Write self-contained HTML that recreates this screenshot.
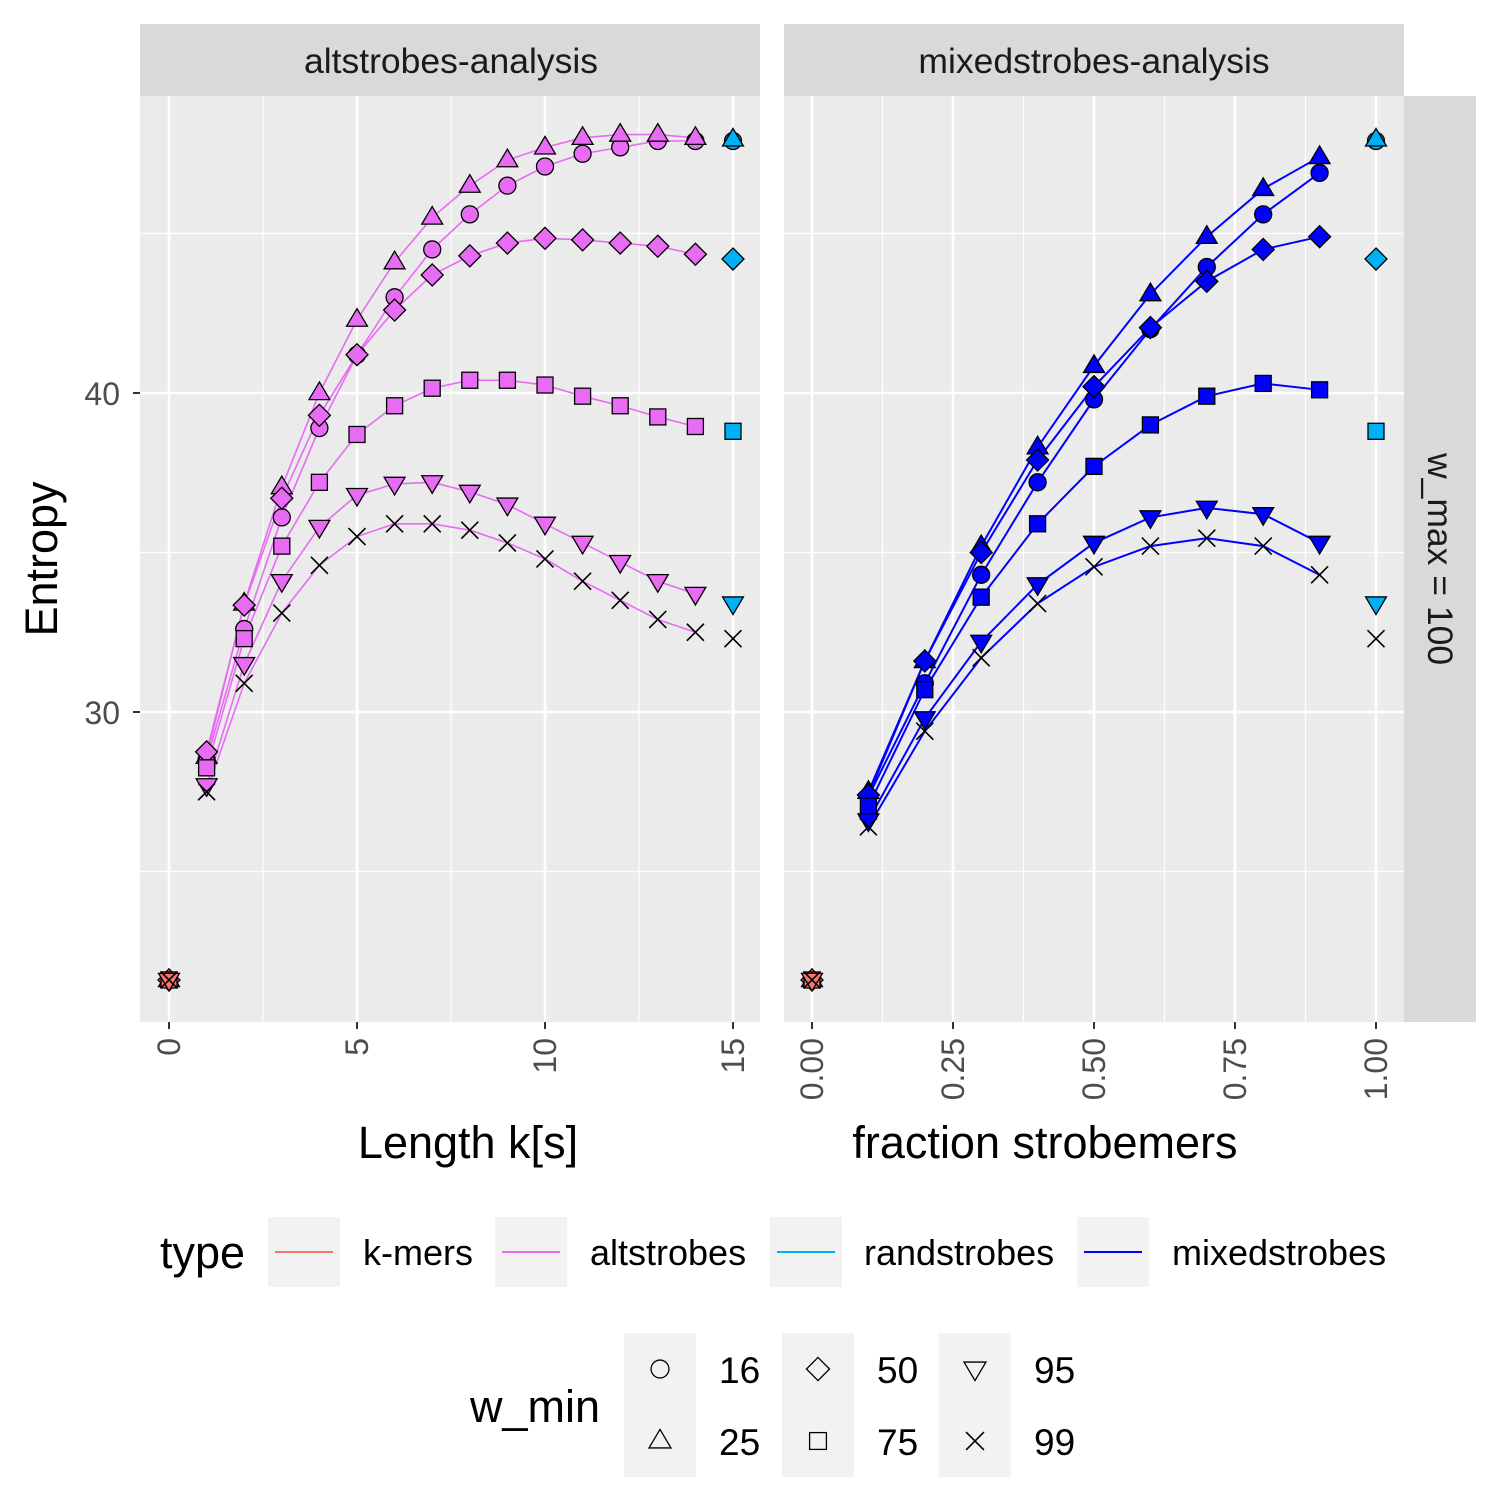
<!DOCTYPE html>
<html><head><meta charset="utf-8"><style>
html,body{margin:0;padding:0;background:#fff;}
svg{display:block;font-family:"Liberation Sans",Arial,sans-serif;}
</style></head><body>
<svg id="chart" width="1500" height="1500" viewBox="0 0 1500 1500">
<rect width="1500" height="1500" fill="#fff"/>
<g id="panels"></g>
<g>
<text x="120" y="405" font-size="32" fill="#4d4d4d" text-anchor="end">40</text>
<text x="120" y="724" font-size="32" fill="#4d4d4d" text-anchor="end">30</text>
<text transform="translate(57,559) rotate(-90)" font-size="45" text-anchor="middle">Entropy</text>
</g>
<text x="468" y="1158" font-size="45" text-anchor="middle">Length k[s]</text>
<text x="1045" y="1158" font-size="45" text-anchor="middle">fraction strobemers</text>
<rect x="140" y="24" width="620" height="72" fill="#d9d9d9"/>
<text x="451" y="73" font-size="35.5" fill="#1a1a1a" text-anchor="middle">altstrobes-analysis</text>
<rect x="784" y="24" width="620" height="72" fill="#d9d9d9"/>
<text x="1094" y="73" font-size="35.5" fill="#1a1a1a" text-anchor="middle">mixedstrobes-analysis</text>
<rect x="1404" y="96" width="72" height="926" fill="#d9d9d9"/>
<text transform="translate(1428,559) rotate(90)" font-size="35.5" fill="#1a1a1a" text-anchor="middle">w_max = 100</text>
<g id="legend"></g>
</svg>
<script>
const NS='http://www.w3.org/2000/svg';
const shapes=['circle','triangle','diamond','square','down','cross'];
const shapeLabels=['16','25','50','75','95','99'];
const typeNames=['k-mers','altstrobes','randstrobes','mixedstrobes'];
const typeColors=['#F8766D','#E76BF3','#00B0F6','#0000FF'];
const altK=[1,2,3,4,5,6,7,8,9,10,11,12,13,14];
const alt16=[28.5,32.6,36.1,38.9,41.2,43.0,44.5,45.6,46.5,47.1,47.5,47.7,47.9,47.9];
const alt25=[28.6,33.4,37.05,40.0,42.3,44.1,45.5,46.5,47.3,47.7,48.0,48.1,48.1,48.0];
const alt50=[28.75,33.35,36.7,39.3,41.2,42.6,43.7,44.3,44.7,44.85,44.8,44.7,44.6,44.35];
const alt75=[28.25,32.3,35.2,37.2,38.7,39.6,40.15,40.4,40.4,40.25,39.9,39.6,39.25,38.95];
const alt95=[27.7,31.5,34.1,35.8,36.8,37.15,37.2,36.9,36.5,35.9,35.3,34.7,34.1,33.7];
const alt99=[27.5,30.9,33.1,34.6,35.5,35.9,35.9,35.7,35.3,34.8,34.1,33.5,32.9,32.5];
const mixF=[0.1,0.2,0.3,0.4,0.5,0.6,0.7,0.8,0.9];
const mix16=[27.35,30.9,34.3,37.2,39.8,42.0,43.95,45.6,46.9];
const mix25=[27.5,31.6,35.2,38.3,40.85,43.1,44.9,46.4,47.4];
const mix50=[27.4,31.6,35.0,37.9,40.2,42.05,43.5,44.5,44.9];
const mix75=[27.05,30.7,33.6,35.9,37.7,39.0,39.9,40.3,40.1];
const mix95=[26.6,29.8,32.2,34.0,35.3,36.1,36.4,36.2,35.3];
const mix99=[26.4,29.4,31.7,33.4,34.55,35.2,35.45,35.2,34.3];
const kmerVal=[21.6,21.6,21.6,21.6,21.6,21.6];
const randVal=[47.9,47.95,44.2,38.8,33.4,32.3];
const altSeries=[alt16,alt25,alt50,alt75,alt95,alt99];
const mixSeries=[mix16,mix25,mix50,mix75,mix95,mix99];
const yMajor=[30,40], yMinor=[25,35,45];
const leftTicks=['0','5','10','15'], leftTickVals=[0,5,10,15], leftMinor=[2.5,7.5,12.5];
const rightTicks=['0.00','0.25','0.50','0.75','1.00'], rightTickVals=[0,0.25,0.5,0.75,1], rightMinor=[0.125,0.375,0.625,0.875];

const yS=v=>393-(v-40)*31.9;
const xL=v=>169+v*37.6;
const xR=v=>812+v*564;
function el(t,a,p){const e=document.createElementNS(NS,t);for(const k in a)e.setAttribute(k,a[k]);(p||document.getElementById('panels')).appendChild(e);return e;}

function marker(shape,cx,cy,fill,parent,sz){
  sz=sz||1;let e;
  if(shape==='circle') e=el('circle',{cx,cy,r:8.5*sz,fill,stroke:'#000','stroke-width':1.3},parent);
  else if(shape==='triangle'){const r=11*sz;e=el('polygon',{points:`${cx},${cy-r} ${cx+r*0.95},${cy+r*0.6} ${cx-r*0.95},${cy+r*0.6}`,fill,stroke:'#000','stroke-width':1.3},parent);}
  else if(shape==='down'){const r=11*sz;e=el('polygon',{points:`${cx},${cy+r} ${cx+r*0.95},${cy-r*0.6} ${cx-r*0.95},${cy-r*0.6}`,fill,stroke:'#000','stroke-width':1.3},parent);}
  else if(shape==='diamond'){const r=11*sz;e=el('polygon',{points:`${cx},${cy-r} ${cx+r},${cy} ${cx},${cy+r} ${cx-r},${cy}`,fill,stroke:'#000','stroke-width':1.3},parent);}
  else if(shape==='square'){const r=8*sz;e=el('rect',{x:cx-r,y:cy-r,width:2*r,height:2*r,fill,stroke:'#000','stroke-width':1.3},parent);}
  else {const r=8.5*sz;e=el('path',{d:`M${cx-r},${cy-r}L${cx+r},${cy+r}M${cx-r},${cy+r}L${cx+r},${cy-r}`,stroke:'#000','stroke-width':1.6,fill:'none'},parent);}
  return e;
}

function panel(name,x0,xs,ticks,tickVals,minor,xsData,series,color,xEnd,rightSide){
  const g=el('g',{});
  
  
  el('rect',{x:x0,y:96,width:620,height:926,fill:'#ebebeb'},g);
  minor.forEach(v=>el('line',{x1:xs(v),x2:xs(v),y1:96,y2:1022,stroke:'#fff','stroke-width':1.2},g));
  yMinor.forEach(v=>el('line',{x1:x0,x2:x0+620,y1:yS(v),y2:yS(v),stroke:'#fff','stroke-width':1.2},g));
  tickVals.forEach(v=>el('line',{x1:xs(v),x2:xs(v),y1:96,y2:1022,stroke:'#fff','stroke-width':2.6},g));
  yMajor.forEach(v=>el('line',{x1:x0,x2:x0+620,y1:yS(v),y2:yS(v),stroke:'#fff','stroke-width':2.6},g));
  tickVals.forEach((v,i)=>{
    el('line',{x1:xs(v),x2:xs(v),y1:1022,y2:1029,stroke:'#333','stroke-width':2},g);
    const t=el('text',{transform:`translate(${xs(v)+11},1038) rotate(-90)`,'font-size':32,fill:'#4d4d4d','text-anchor':'end'},g);
    t.textContent=ticks[i];
    
    
  });
  if(!rightSide){yMajor.forEach(v=>el('line',{x1:x0-7,x2:x0,y1:yS(v),y2:yS(v),stroke:'#333','stroke-width':2},g));}
  series.forEach((s,i)=>{
    const pts=s.map((v,j)=>xs(xsData[j])+','+yS(v)).join(' ');
    const l=el('polyline',{points:pts,fill:'none',stroke:color,'stroke-width':rightSide?2:1.6},g);
    
    
  });
  kmerVal.forEach((v,i)=>{const m=marker(shapes[i],xs(0),yS(v),typeColors[0],g);
    
    });
  series.forEach((s,i)=>s.forEach((v,j)=>{const m=marker(shapes[i],xs(xsData[j]),yS(v),color,g);
    
    }));
  randVal.forEach((v,i)=>{const m=marker(shapes[i],xs(xEnd),yS(v),typeColors[2],g);
    
    });
}
panel('panel-altstrobes',140,xL,leftTicks,leftTickVals,leftMinor,altK,altSeries,typeColors[1],15,false);
panel('panel-mixedstrobes',784,xR,rightTicks,rightTickVals,rightMinor,mixF,mixSeries,typeColors[3],1,true);

const lg=document.getElementById('legend');


let t=el('text',{x:160,y:1268,'font-size':45},lg);t.textContent='type';

const kx=[268,495,770,1077], lx=[363,590,864,1172];
typeNames.forEach((n,i)=>{
  const r=el('rect',{x:kx[i],y:1217,width:72,height:70,fill:'#f2f2f2'},lg);
  
  el('line',{x1:kx[i]+7,x2:kx[i]+65,y1:1252,y2:1252,stroke:typeColors[i],'stroke-width':2},lg);
  const tx=el('text',{x:lx[i],y:1265,'font-size':36},lg);tx.textContent=n;
  
});
t=el('text',{x:470,y:1422,'font-size':45},lg);t.textContent='w_min';

const cx=[624,782,939], clx=[719,877,1034];
shapes.forEach((s,i)=>{
  const c=Math.floor(i/2), r=i%2;
  el('rect',{x:cx[c],y:1333+r*72,width:72,height:72,fill:'#f2f2f2'},lg);
  const m=marker(s,cx[c]+36,1333+r*72+36,'none',lg,1.05);
  
  const tx=el('text',{x:clx[c],y:1333+r*72+50,'font-size':37},lg);tx.textContent=shapeLabels[i];
  
});
</script>
</body></html>
